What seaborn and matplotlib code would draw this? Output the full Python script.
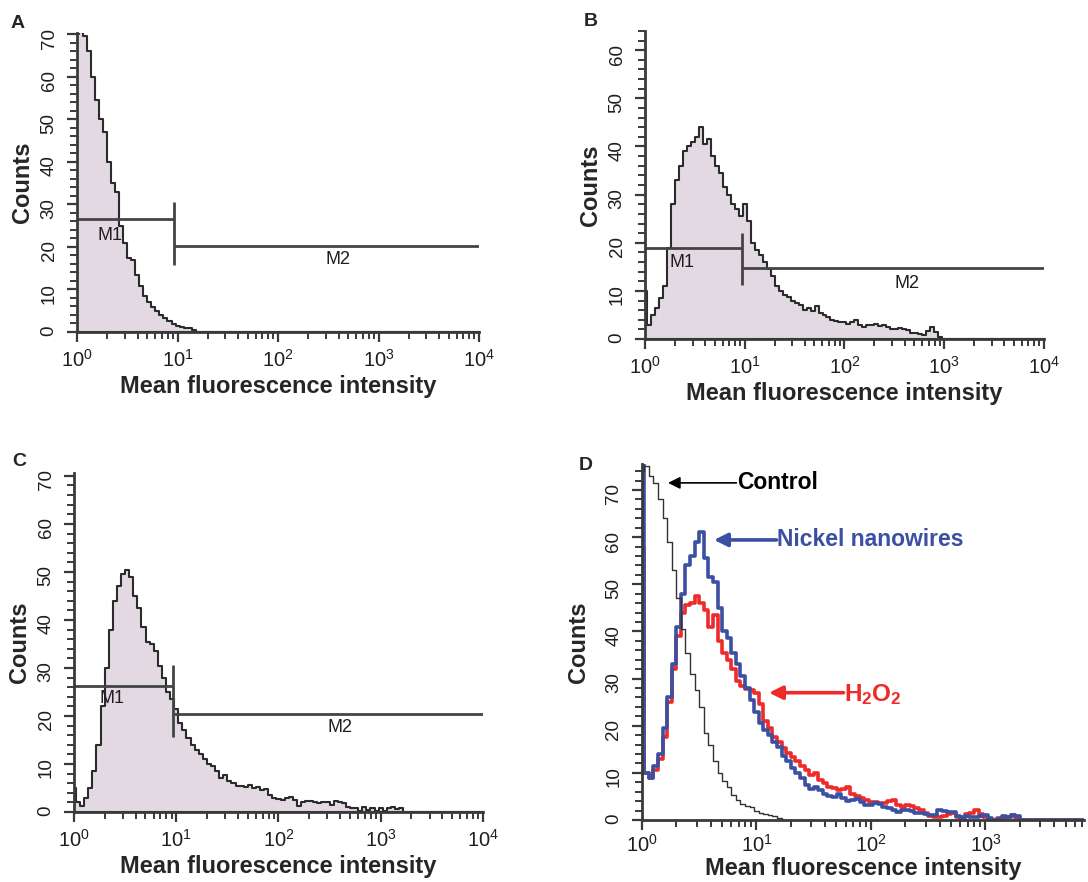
import numpy as np
import matplotlib
matplotlib.use("Agg")
import matplotlib.pyplot as plt
from matplotlib.ticker import LogLocator, NullFormatter, MultipleLocator
import seaborn as sns

# Channel width in decades (log10 of fluorescence intensity)
channel_step = 0.04

# Counts per channel, first channel at 10^0
counts_a = [70, 70.5, 69.5, 66, 60, 54.5, 50, 47, 40, 35, 33, 25, 21, 17.5, 17,
            13.5, 10.8, 8.5, 7, 5.8, 5, 4, 3.3, 2.7, 1.8, 1.4, 1.2, 1, 1, 0.5]

counts_b = [10, 3, 5, 6.5, 8.5, 11, 19, 28, 33, 36, 39, 40, 41, 42, 44, 40.5,
            41.5, 38, 36, 34.5, 31.5, 30, 28, 27, 25.5, 28, 24.5, 20, 18.5, 17.5,
            16, 14.5, 13, 11, 10, 9.2, 8.8, 8, 7.5, 7, 6, 6.5, 5.8, 6.8, 5.5, 5,
            4.5, 4, 3.8, 3.5, 3.6, 3.2, 3.5, 4, 3, 2.4, 3, 3, 3.2, 2.8, 3, 2.5,
            2, 2, 2.2, 2, 1.8, 1.2, 1.2, 1, 0.8, 1.6, 2.5, 1.5, 0.5]

counts_c = [5, 2, 1.2, 3, 5, 8.5, 14, 22, 30, 38, 44, 47, 49.5, 50.5, 49, 45,
            42.5, 38.5, 35.5, 35, 33.5, 30.5, 28, 25, 23.5, 21.5, 18.5, 17, 15.5,
            14, 13, 12, 11, 10, 9.5, 8.5, 7, 7.8, 6.5, 6, 5.5, 5.5, 5.2, 5.6, 5,
            5.3, 4.6, 4.8, 3.5, 3, 2.6, 2.4, 3, 3.1, 2.4, 1.2, 2, 2.2, 2.2, 2,
            1.9, 2, 2.1, 1.5, 2.3, 2, 1.8, 1, 0.8, 0.8, 0.3, 1, 0.5, 0.8, 0.2,
            0.9, 0.3, 0.8, 1, 0.6, 0.8]

counts_d_control = [74, 75, 73, 71.5, 68, 64, 59, 53, 47, 40.5, 35.5, 31, 27.5,
                    24, 18.5, 16, 12.5, 10, 8.3, 7, 5.3, 4.2, 3.4, 3, 2.7, 2,
                    1.5, 1.2, 1, 0.8, 0.4]

counts_d_nickel = [76, 10, 9, 11.5, 14, 19.5, 26, 33, 41, 48, 54, 56, 59, 61,
                   55.5, 51.5, 50.5, 45, 40, 38.5, 35.5, 33, 30.5, 28, 25.5, 23,
                   20.5, 19, 18, 16.5, 15.5, 13.5, 12.5, 11, 10, 9, 7.5, 6.5, 7,
                   6.4, 5.5, 5, 4.8, 5.5, 4.6, 4, 4.2, 4.5, 3.8, 3.2, 3.2, 3.6,
                   3.4, 2.8, 2.5, 2.2, 1.8, 2.2, 2.1, 2, 1.4, 1.4, 1.3, 1.1, 1.1,
                   2.1, 2, 1.8, 1.6, 0.8, 0.7, 0.8, 0.6, 0.7, 0.9, 1, 0.4, 0,
                   0.3, 0.8, 0.6, 1.1, 0.8]

counts_d_h2o2 = [58, 10, 9, 10.5, 13, 17.5, 25, 32, 39, 44, 45.5, 46, 47.5, 46,
                 44.5, 41, 43.5, 38, 35.5, 34, 32, 29.5, 28.5, 27.8, 27.6, 27,
                 24.5, 21, 19.5, 17.7, 16.5, 15.3, 14.2, 13.3, 12.6, 11.5, 10.5,
                 9.5, 9.9, 8.5, 7.8, 7.1, 6.8, 6.4, 6.6, 7.1, 5.5, 5, 4.6, 4.3,
                 3.9, 3.8, 3.5, 3.6, 4, 4.2, 3.1, 2.8, 3.2, 3, 2.5, 2.2, 1.4, 0.9,
                 0.7, 0.7, 0.9, 1.2, 1.4, 0.6, 0.2, 1.2, 1.4, 2.1, 1.2, 0.6, 0.2,
                 0, 0.4, 0.5, 0.7, 1.0, 0.4]

# Marker gates: [start, end, level] for M1 and M2, divider [x, low, high]
gate_a_m1, gate_a_m2, gate_a_div = [1.0, 9.2, 26.5], [9.3, 1e4, 20.2], [9.2, 15.7, 30.5]
gate_b_m1, gate_b_m2, gate_b_div = [1.0, 9.3, 18.9], [9.4, 1e4, 14.7], [9.3, 11.2, 22.0]
gate_c_m1, gate_c_m2, gate_c_div = [1.0, 9.35, 26.3], [9.45, 1e4, 20.4], [9.35, 15.7, 30.6]

FILL = "#e3d9e3"
EDGE = "#2b2b2b"
AXIS = "#3a3a3a"
BLUE = "#3b4fa3"
RED = "#ee2a2a"

sns.set_style("ticks")
plt.rcParams["font.family"] = ["Liberation Sans", "DejaVu Sans"]
plt.rcParams.update({
    "mathtext.fontset": "custom",
    "mathtext.rm": "Liberation Sans",
    "mathtext.bf": "Liberation Sans:bold",
    "mathtext.it": "Liberation Sans:italic",
})

fig = plt.figure(figsize=(10.88, 8.82), dpi=100)


def hist(ax, counts, top_decade, **kws):
    x = 10 ** (np.arange(len(counts)) * channel_step)
    sns.histplot(x=x, weights=counts, binwidth=channel_step,
                 binrange=(-channel_step / 2, top_decade), log_scale=True,
                 element="step", ax=ax, **kws)


def style(ax, ytop, xmax, xpad=3, ypad=5, xtickpad=5):
    ax.set_xscale("log")
    ax.set_xlim(1, xmax)
    ax.set_ylim(0, ytop)
    ax.yaxis.set_major_locator(MultipleLocator(10))
    ax.yaxis.set_minor_locator(MultipleLocator(2))
    ax.xaxis.set_major_locator(LogLocator(base=10, numticks=10))
    ax.xaxis.set_minor_locator(LogLocator(base=10, subs=np.arange(2, 10), numticks=40))
    ax.xaxis.set_minor_formatter(NullFormatter())
    sns.despine(ax=ax)
    for s in ("left", "bottom"):
        ax.spines[s].set_linewidth(2)
        ax.spines[s].set_color(AXIS)
    ax.tick_params(which="major", direction="out", length=7, width=1.6,
                   color=AXIS, labelcolor="#1e1e1e")
    ax.tick_params(which="minor", direction="out", length=5, width=1.4, color=AXIS)
    ax.tick_params(axis="y", labelrotation=90, labelsize=13.5, pad=7)
    ax.tick_params(axis="x", labelsize=14.5, pad=xtickpad)
    ax.set_xlabel("Mean fluorescence intensity", fontsize=17, fontweight="bold", labelpad=xpad)
    ax.set_ylabel("Counts", fontsize=17, fontweight="bold", labelpad=ypad)


def gates(ax, m1, m2, div, m1_label, m2_label):
    ax.hlines(m1[2], m1[0], m1[1], color="#444444", lw=2)
    ax.hlines(m2[2], m2[0], m2[1], color="#444444", lw=2)
    ax.vlines(div[0], div[1], div[2], color="#444444", lw=2)
    ax.text(*m1_label, "M1", fontsize=13, ha="center", va="center", color="#1e1e1e")
    ax.text(*m2_label, "M2", fontsize=13, ha="center", va="center", color="#1e1e1e")


# Panel A
ax_a = fig.add_axes([0.0708, 0.6236, 0.3695, 0.339])
hist(ax_a, counts_a, 4.02, fill=True, color=FILL, edgecolor=EDGE, linewidth=1.5, alpha=1)
gates(ax_a, gate_a_m1, gate_a_m2, gate_a_div, (10 ** 0.33, 22.8), (10 ** 2.6, 17))
style(ax_a, 70.3, 1e4)

# Panel B
ax_b = fig.add_axes([0.5928, 0.6156, 0.3667, 0.3493])
hist(ax_b, counts_b, 4.02, fill=True, color=FILL, edgecolor=EDGE, linewidth=1.5, alpha=1)
gates(ax_b, gate_b_m1, gate_b_m2, gate_b_div, (10 ** 0.37, 15.8), (10 ** 2.63, 11.6))
style(ax_b, 64, 1e4)

# Panel C
ax_c = fig.add_axes([0.068, 0.0794, 0.3759, 0.3843])
hist(ax_c, counts_c, 4.02, fill=True, color=FILL, edgecolor=EDGE, linewidth=1.5, alpha=1)
gates(ax_c, gate_c_m1, gate_c_m2, gate_c_div, (10 ** 0.37, 23.7), (10 ** 2.6, 17.5))
style(ax_c, 70.6, 1e4)

# Panel D: overlay of the three samples
ax_d = fig.add_axes([0.590, 0.0703, 0.4063, 0.4036])
hist(ax_d, counts_d_h2o2, 3.9, fill=False, color=RED, linewidth=2.6)
hist(ax_d, counts_d_nickel, 3.9, fill=False, color=BLUE, linewidth=2.6)
hist(ax_d, counts_d_control, 3.9, fill=False, color="#333333", linewidth=1.0)
style(ax_d, 75.5, 10 ** 3.86, xpad=1, ypad=11, xtickpad=3)

ax_d.annotate("", xy=(10 ** 0.228, 71.5), xytext=(10 ** 0.825, 71.5),
              arrowprops=dict(arrowstyle="-|>", color="black", lw=1.2,
                              mutation_scale=18, shrinkA=0, shrinkB=0))
ax_d.text(10 ** 0.83, 71.5, "Control", fontsize=16.5, fontweight="bold",
          ha="left", va="center", color="black")
ax_d.annotate("", xy=(10 ** 0.63, 59.4), xytext=(10 ** 1.175, 59.4),
              arrowprops=dict(arrowstyle="-|>", color=BLUE, lw=2.6,
                              mutation_scale=20, shrinkA=0, shrinkB=0))
ax_d.text(10 ** 1.18, 59.4, "Nickel nanowires", fontsize=16.5, fontweight="bold",
          ha="left", va="center", color=BLUE)
ax_d.annotate("", xy=(10 ** 1.11, 27), xytext=(10 ** 1.76, 27),
              arrowprops=dict(arrowstyle="-|>", color=RED, lw=2.6,
                              mutation_scale=20, shrinkA=0, shrinkB=0))
ax_d.text(10 ** 1.765, 25.2, r"$\mathbf{H_2O_2}$", fontsize=17.5,
          ha="left", va="baseline", color=RED)

# Panel letters
for letter, (px, py) in {"A": (18, 24), "B": (591, 22), "C": (19, 462), "D": (586, 465)}.items():
    fig.text(px / 1088, 1 - py / 882, letter, fontsize=14, fontweight="bold",
             ha="center", va="center")

fig.savefig("out.png", dpi=100, facecolor="white")
